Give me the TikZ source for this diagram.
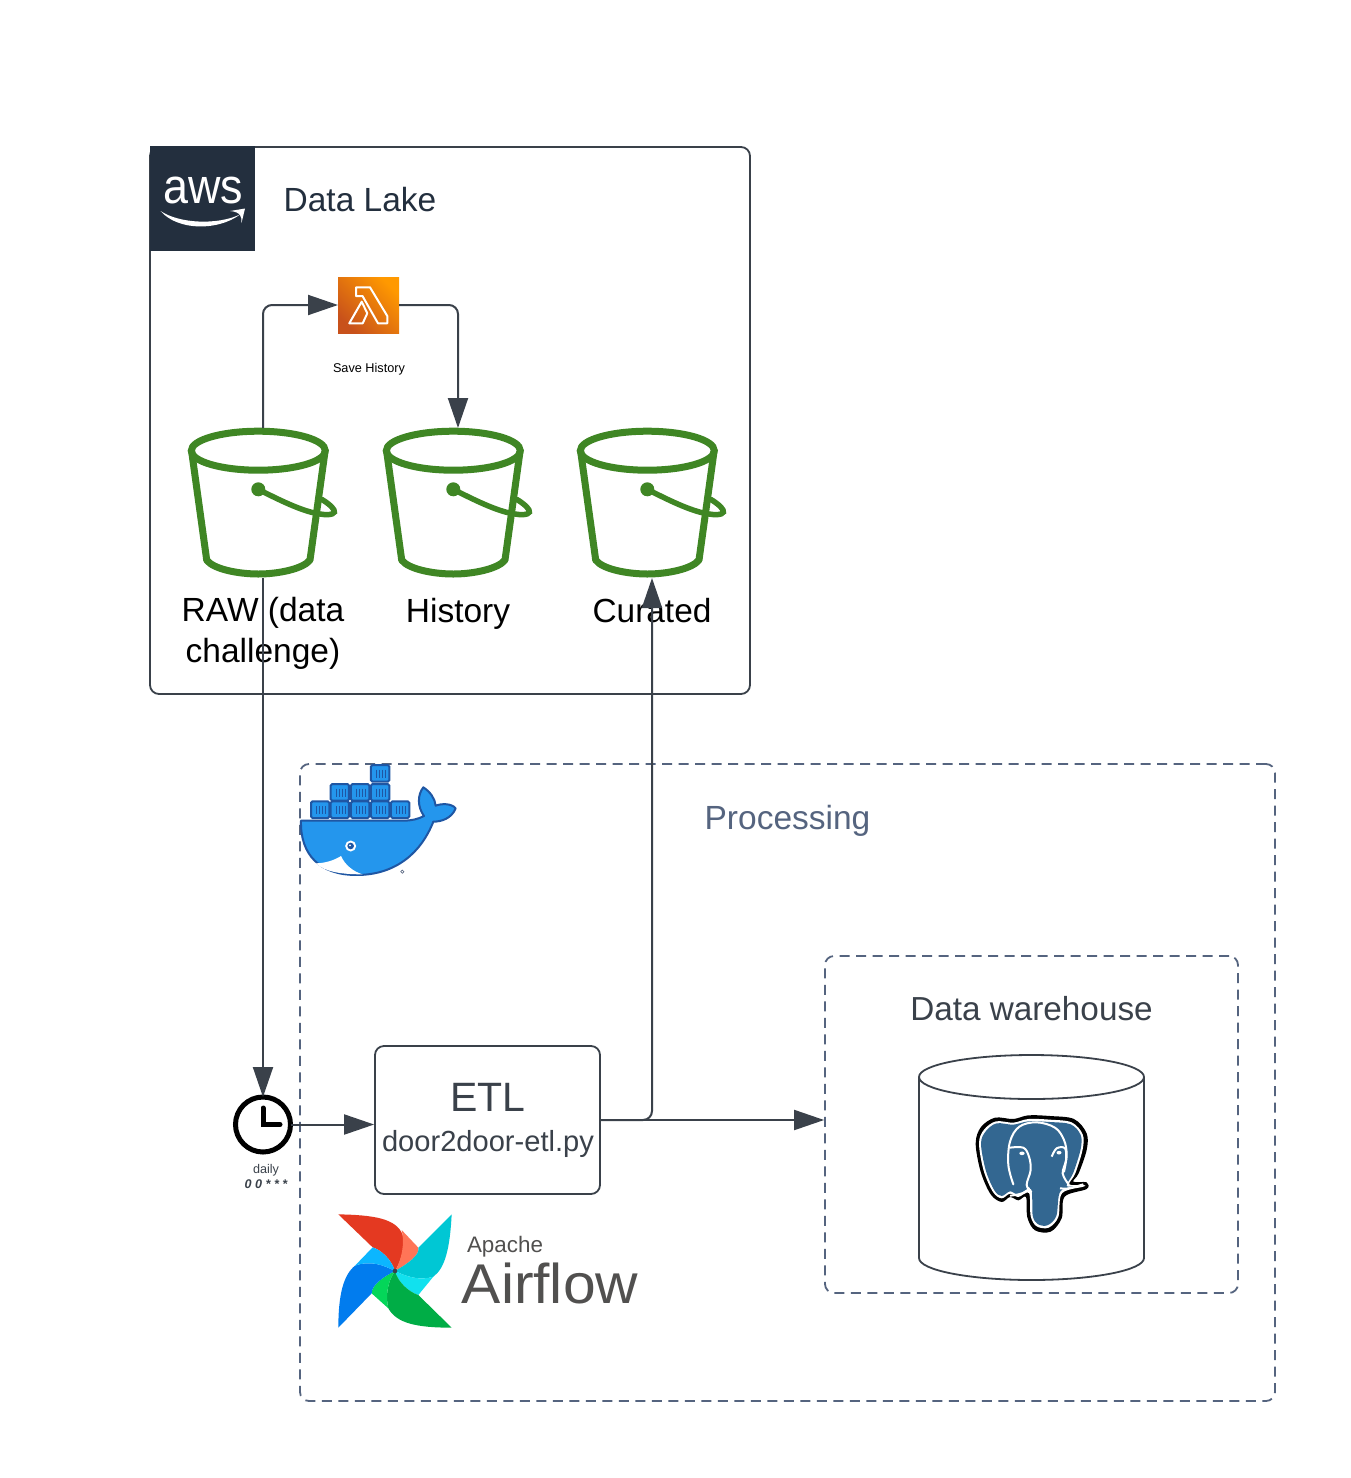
\documentclass[tikz,border=0pt]{standalone}
\usepackage{fontspec}
\usepackage{graphicx}
\setmainfont{Liberation Sans}
\usetikzlibrary{arrows.meta,calc}
\definecolor{lineC}{HTML}{3A414A}
\definecolor{dashC}{HTML}{55647F}
\definecolor{awsC}{HTML}{232F3E}
\definecolor{s3C}{HTML}{3F8624}
\definecolor{dockC}{HTML}{2496ED}
\definecolor{dockD}{HTML}{1F56A3}
\definecolor{pgC}{HTML}{336791}
\definecolor{afText}{HTML}{51504F}
\definecolor{lamA}{HTML}{FF9900}
\definecolor{lamB}{HTML}{C8511B}
\definecolor{afRed}{HTML}{E43921}
\definecolor{afSalmon}{HTML}{FF7557}
\definecolor{afCyan}{HTML}{00C7D4}
\definecolor{afCyanL}{HTML}{11E1EE}
\definecolor{afGreen}{HTML}{00AD46}
\definecolor{afGreenL}{HTML}{04D659}
\definecolor{afBlue}{HTML}{017CEE}
\definecolor{afBlueL}{HTML}{0CB6FF}
\newcommand{\fs}[1]{\fontsize{#1}{#1}\selectfont}
\tikzset{
  conn/.style={draw=lineC,line width=2pt,rounded corners=9pt},
  arrowed/.style={conn,-{Triangle[length=30pt,width=20pt,fill=lineC]}},
  solidbox/.style={draw=lineC,line width=1.8pt,rounded corners=9pt,inner sep=0pt},
  dashbox/.style={draw=dashC,line width=1.8pt,rounded corners=9pt,inner sep=0pt,dash pattern=on 10pt off 6.5pt},
  ghost/.style={inner sep=0pt,outer sep=0pt},
  lab/.style={inner sep=0pt,outer sep=0pt,anchor=base,text=black},
  bucketpic/.pic={
    \draw[s3C,line width=7pt,line join=round] (-71.3,-51.3) -- (-56.3,57)
      .. controls (-50,66) and (-25,71) .. (-4.7,71)
      .. controls (15,71) and (40,66) .. (47,57) -- (62,-51.3);
    \draw[s3C,line width=7pt] (-4.7,-52.3) ellipse [x radius=67pt,y radius=19.5pt];
    \fill[s3C] (-4.7,-13.7) circle [radius=7pt];
    \draw[s3C,line width=5.5pt,line cap=round] (-4.7,-13.7) .. controls (22,0) and (42,9) .. (57,11)
      .. controls (69,13) and (73,10) .. (71,7) .. controls (69,3) and (63,-1) .. (59,-3.5);
  },
  contpic/.pic={
    \fill[dockC,draw=dockD,line width=2pt,rounded corners=1.5pt] (0,0) rectangle (55,50);
    \draw[dockD,line width=.9pt] (16,14) -- (16,38) (25,14) -- (25,38) (34,14) -- (34,38) (43,14) -- (43,38);
  }
}
\begin{document}
\begin{tikzpicture}[x=1pt,y=-1pt]
\path[use as bounding box,fill=white] (0,0) rectangle (1350,1478);

% containers
\node[solidbox,minimum width=600pt,minimum height=547pt] (lake) at (450,420.5) {};
\node[dashbox,minimum width=975pt,minimum height=637pt] (proc) at (787.5,1082.5) {};
\node[dashbox,minimum width=413pt,minimum height=337pt] (wh) at (1031.5,1124.5) {};
\node[solidbox,minimum width=225pt,minimum height=148pt] (etl) at (487.5,1120) {};

% AWS logo
\node[ghost,fill=awsC,minimum width=105pt,minimum height=105pt] (awslogo) at (202.5,198.5) {};
\node[ghost,text=white] (awstxt) at (203,190) {\scalebox{1.02}[1.12]{\fs{44}aws}};
\fill[white] (160.5,211) .. controls (180,224) and (218,225) .. (240,214.5)
  .. controls (218,231) and (178,231) .. (160.5,211) -- cycle;
\fill[white] (230,211) -- (245,208.5) -- (241.5,223) .. controls (242,217) and (241,212) .. (230,211) -- cycle;

% Lambda
\node[ghost,minimum width=61pt,minimum height=56pt,top color=lamA,bottom color=lamB,shading angle=-45] (lambda) at (368.5,305) {};
\draw[white,line width=2pt,line join=round] (356,287.3) -- (370,287.3) -- (387.3,316) -- (387.3,323.3) -- (378,323.3) -- (362.5,296) -- (356,296) -- cycle;
\draw[white,line width=2pt,line join=round] (361.7,301.7) -- (367.3,313.3) -- (362.7,323.3) -- (349.3,323.3) -- cycle;
\node[lab] (savelab) at (369,372) {\fs{12.7}Save History};

% Buckets
\node[ghost,minimum width=150pt,minimum height=150pt] (raw) at (263,503) {};
\node[ghost,minimum width=150pt,minimum height=150pt] (hist) at (458,503) {};
\node[ghost,minimum width=150pt,minimum height=150pt] (cur) at (652,503) {};
\pic at (raw.center) {bucketpic};
\pic at (hist.center) {bucketpic};
\pic at (cur.center) {bucketpic};

% Docker logo
\begin{scope}[shift={(290,755)},x=.3333pt,y=-.3333pt]
  \pic at (243,30) {contpic};
  \pic at (122,87) {contpic};
  \pic at (183,87) {contpic};
  \pic at (243,87) {contpic};
  \pic at (63,139) {contpic};
  \pic at (122,139) {contpic};
  \pic at (183,139) {contpic};
  \pic at (243,139) {contpic};
  \pic at (303,139) {contpic};
  \fill[dockC,draw=dockD,line width=2pt,line join=round] (33,197) -- (340,197)
    .. controls (365,197) and (385,192) .. (402,183)
    .. controls (382,155) and (382,120) .. (400,97)
    .. controls (420,110) and (435,130) .. (437,152)
    .. controls (455,145) and (485,145) .. (497,160)
    .. controls (485,190) and (455,200) .. (430,200)
    .. controls (395,290) and (320,360) .. (200,360)
    .. controls (90,360) and (30,300) .. (33,197) -- cycle;
  \fill[white] (77,325) .. controls (105,325) and (135,315) .. (153,303)
    .. controls (165,330) and (190,350) .. (218,358)
    .. controls (150,358) and (105,350) .. (77,325) -- cycle;
  \fill[white] (182,273) circle [radius=5.5pt];
  \fill[dockD] (182,273) circle [radius=3.3pt];
  \fill[white] (180,271) circle [radius=1pt];
  \draw[dashC,line width=.6pt] (337,350) circle [radius=1.6pt];
\end{scope}

% Clock
\node[ghost,draw=black,circle,line width=5pt,minimum size=55pt] (clock) at (263,1124.5) {};
\draw[black,line width=5pt,line cap=round,line join=miter] (263,1108) -- (263,1124.5) -- (280,1124.5);

% Airflow logo
\begin{scope}[shift={(330,1205)},x=.3333pt,y=-.3333pt]
  \fill[afRed] (25,28) .. controls (130,30) and (200,40) .. (218,90)
    .. controls (225,125) and (215,165) .. (195,198) .. controls (185,165) and (155,135) .. (128,127) -- cycle;
  \fill[afSalmon] (215,75) -- (265,128) .. controls (270,150) and (235,175) .. (195,198)
    .. controls (215,165) and (225,115) .. (215,75) -- cycle;
  \fill[afCyan] (365,28) .. controls (360,130) and (345,190) .. (310,215)
    .. controls (270,228) and (230,215) .. (195,198) .. controls (235,175) and (270,150) .. (265,128) -- cycle;
  \fill[afCyanL] (195,198) .. controls (230,215) and (270,228) .. (310,215) -- (265,270)
    .. controls (240,262) and (205,235) .. (195,198) -- cycle;
  \fill[afGreen] (195,198) .. controls (205,235) and (240,262) .. (265,270) -- (365,368)
    .. controls (260,368) and (200,355) .. (175,310) .. controls (165,270) and (175,225) .. (195,198) -- cycle;
  \fill[afGreenL] (195,198) .. controls (175,225) and (165,270) .. (175,310) -- (125,265)
    .. controls (125,240) and (160,215) .. (195,198) -- cycle;
  \fill[afBlue] (25,368) .. controls (25,270) and (40,210) .. (75,182)
    .. controls (120,165) and (160,180) .. (195,198) .. controls (160,215) and (125,240) .. (125,265) -- cycle;
  \fill[afBlueL] (195,198) .. controls (160,180) and (120,165) .. (75,182) -- (128,127)
    .. controls (155,135) and (185,165) .. (195,198) -- cycle;
  \fill[lineC] (195,198) circle [radius=2.3pt];
\end{scope}
\node[lab,text=afText] (apache) at (505,1252) {\fs{22.4}Apache};
\node[lab,text=afText] (airflow) at (550,1303) {\scalebox{1.05}[1]{\fs{56}Airflow}};

% Warehouse cylinder
\node[ghost,minimum width=225pt,minimum height=225pt] (cyl) at (1031.5,1167.5) {};
\draw[lineC,line width=1.8pt] (919,1077) -- (919,1258) arc [start angle=180,end angle=360,x radius=112.5pt,y radius=22pt] -- (1144,1077);
\draw[lineC,line width=1.8pt] (1031.5,1077) ellipse [x radius=112.5pt,y radius=22pt];

% PostgreSQL logo
\begin{scope}[shift={(960,1105)},x=.3333pt,y=-.3333pt]
  \def\pgout{(47,115) (63,66) (105,38) (160,42) (205,31) (270,33) (342,42) (380,85) (380,135) (356,205) (340,230) (380,232) (380,252) (314,275) (305,340) (272,380) (225,376) (202,337) (198,276) (175,286) (150,276) (125,291) (92,268) (62,200)}
  \fill[black] plot[smooth cycle,tension=.55] coordinates {\pgout};
  \fill[white] plot[smooth cycle,tension=.55] coordinates {(57,115) (72,74) (108,49) (160,53) (205,42) (270,44) (335,52) (368,88) (368,133) (346,205) (328,238) (370,240) (370,245) (306,265) (295,336) (266,368) (230,364) (212,333) (207,264) (175,276) (150,266) (125,280) (99,261) (71,197)};
  \fill[pgC] plot[smooth cycle,tension=.55] coordinates {(63,115) (78,78) (110,55) (160,59) (205,49) (270,51) (332,58) (362,90) (362,132) (340,203) (320,243) (362,242) (302,258) (289,333) (262,361) (233,357) (218,331) (213,252) (175,268) (150,259) (125,273) (103,256) (77,195)};
  \draw[white,line width=2pt,line cap=round] plot[smooth,tension=.6] coordinates {(160,238) (145,180) (150,110) (178,65) (230,52) (285,68) (312,105) (320,150) (312,200)};
  \draw[white,line width=2pt,line join=round] plot[smooth,tension=.6] coordinates {(150,128) (190,128) (207,155) (212,195) (200,240) (215,262)};
  \draw[white,line width=2pt] plot[smooth,tension=.6] coordinates {(275,155) (290,130) (315,130) (318,165) (308,205) (325,237)};
  \draw[white,line width=2pt] (150,272) .. controls (175,270) and (205,262) .. (208,248);
  \draw[white,line width=2pt] (300,250) .. controls (320,255) and (345,245) .. (370,238);
  \fill[white] (186,145) ellipse [x radius=2.7pt,y radius=1.8pt];
  \fill[white] (297,143) ellipse [x radius=2.5pt,y radius=1.8pt];
\end{scope}

% Labels
\node[lab,text=awsC] (lakelab) at (360,211) {\fs{33.5}Data Lake};
\node[ghost,align=center,font=\fs{33.5},text=black] (rawlab) at (263,633) {RAW (data\\[7.5pt]challenge)};
\node[lab] (histlab) at (458,622) {\fs{33.5}History};
\node[lab] (curlab) at (652,622) {\fs{33.4}Curated};
\node[lab,text=dashC] (proclab) at (787.5,829) {\fs{33.5}Processing};
\node[lab,text=lineC] (whlab) at (1031.5,1020) {\fs{33.3}Data warehouse};
\node[lab,text=lineC] (etllab) at (488,1111) {\fs{41}ETL};
\node[lab,text=lineC] (etlfile) at (488,1151) {\fs{29.1}door2door-etl.py};
\node[lab,text=lineC] (dailylab) at (266,1173) {\fs{12.6}daily};
\node[lab,text=lineC] (cronlab) at (266,1188) {\fs{12.6}\bfseries\itshape 0 0 * * *};

% Connectors
\path[arrowed] (raw.north) |- (lambda.west);
\path[arrowed] (lambda.east) -| (hist.north);
\path[arrowed] (raw.south) -- (clock.north);
\path[arrowed] (clock.east) -- (clock.east -| etl.west);
\path[arrowed] (etl.east) -- (etl.east -| wh.west);
\path[arrowed] (etl.east) -| (cur.south);
\end{tikzpicture}
\end{document}
